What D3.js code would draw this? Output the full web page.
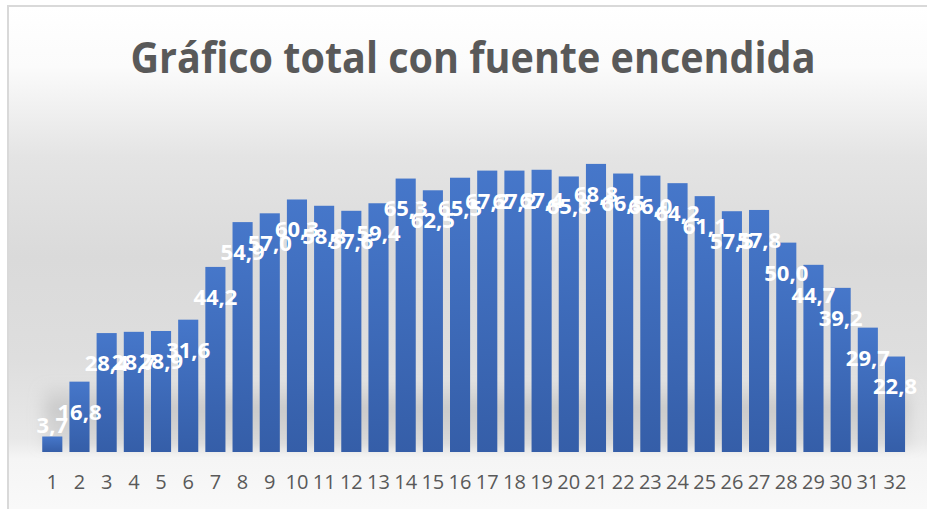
<!DOCTYPE html>
<html>
<head>
<meta charset="utf-8">
<script src="https://cdn.jsdelivr.net/npm/d3@7"></script>
<style>
  html, body { margin: 0; padding: 0; background: #fff; overflow: hidden; }
  svg { display: block; }
</style>
</head>
<body>
<div id="chart"></div>
<script>
const title = "Gráfico total con fuente encendida";
const categories = d3.range(1, 33).map(String);
const values = [3.7, 16.8, 28.4, 28.7, 28.9, 31.6, 44.2, 54.9, 57.0, 60.3, 58.8, 57.6, 59.4, 65.3, 62.5, 65.5,
                67.2, 67.2, 67.4, 65.8, 68.8, 66.5, 66.0, 64.2, 61.1, 57.5, 57.8, 50.0, 44.7, 39.2, 29.7, 22.8];
const yMax = 80;

const width = 927, height = 509;
const plotBottom = 452, plotTop = 117;

const svg = d3.select("#chart").append("svg")
    .attr("width", width)
    .attr("height", height);

const defs = svg.append("defs");

const bg = defs.append("linearGradient").attr("id", "bg")
    .attr("gradientUnits", "userSpaceOnUse")
    .attr("x1", 0).attr("y1", 6).attr("x2", 0).attr("y2", height);
[[0, "#ffffff"], [0.12, "#fbfbfb"], [0.3, "#e4e4e4"], [0.5, "#dadada"], [0.7, "#dedede"],
 [0.86, "#e8e8e8"], [0.9, "#f5f5f5"], [1, "#f9f9f9"]]
    .forEach(([o, c]) => bg.append("stop").attr("offset", o).attr("stop-color", c));

const barGrad = defs.append("linearGradient").attr("id", "bar")
    .attr("x1", 0).attr("y1", 0).attr("x2", 0).attr("y2", 1);
barGrad.append("stop").attr("offset", 0).attr("stop-color", "#4677ca");
barGrad.append("stop").attr("offset", 1).attr("stop-color", "#355ea8");

const shadowGrad = defs.append("linearGradient").attr("id", "shade")
    .attr("x1", 0).attr("y1", 0).attr("x2", 0).attr("y2", 1);
shadowGrad.append("stop").attr("offset", 0).attr("stop-color", "#b5b5b5").attr("stop-opacity", 0);
shadowGrad.append("stop").attr("offset", 0.4).attr("stop-color", "#b5b5b5").attr("stop-opacity", 0.55);
shadowGrad.append("stop").attr("offset", 0.7).attr("stop-color", "#bdbdbd").attr("stop-opacity", 0.5);
shadowGrad.append("stop").attr("offset", 1).attr("stop-color", "#c8c8c8").attr("stop-opacity", 0.35);

defs.append("filter").attr("id", "blur")
    .attr("x", -0.1).attr("y", -0.5).attr("width", 1.2).attr("height", 2)
    .append("feGaussianBlur").attr("stdDeviation", "8 4");

// chart area (right and bottom edges fall outside the picture)
svg.append("rect")
    .attr("x", 8).attr("y", 6)
    .attr("width", width + 60).attr("height", height + 60)
    .attr("fill", "url(#bg)")
    .attr("stroke", "#d9d9d9")
    .attr("stroke-width", 2);

const x = d3.scaleBand()
    .domain(categories)
    .range([38.7, 908.6])
    .paddingInner(0.26)
    .paddingOuter(0.13);

const y = d3.scaleLinear()
    .domain([0, yMax])
    .range([plotBottom, plotTop]);

// soft shadow behind bar bases
svg.append("rect")
    .attr("x", x.range()[0] + 6)
    .attr("y", plotBottom - 72)
    .attr("width", x.range()[1] - x.range()[0] - 6)
    .attr("height", 70)
    .attr("fill", "url(#shade)")
    .attr("filter", "url(#blur)");

svg.append("text")
    .attr("x", 473)
    .attr("y", 73)
    .attr("text-anchor", "middle")
    .attr("font-family", "'Open Sans', sans-serif")
    .attr("font-weight", 700)
    .attr("font-size", 43)
    .attr("fill", "#595959")
    .attr("textLength", 685)
    .attr("lengthAdjust", "spacingAndGlyphs")
    .text(title);

svg.append("g")
    .selectAll("rect")
    .data(values)
    .join("rect")
    .attr("x", (d, i) => x(categories[i]))
    .attr("y", d => y(d))
    .attr("width", x.bandwidth())
    .attr("height", d => plotBottom - y(d))
    .attr("fill", "url(#bar)");

const fmt = d => d.toFixed(1).replace(".", ",");

svg.append("g")
    .selectAll("text")
    .data(values)
    .join("text")
    .attr("x", (d, i) => x(categories[i]) + x.bandwidth() / 2)
    .attr("y", d => Math.min(y(d) + 30, plotBottom - 27))
    .attr("dy", "0.36em")
    .attr("text-anchor", "middle")
    .attr("font-family", "'Open Sans', sans-serif")
    .attr("font-weight", 700)
    .attr("font-size", 22)
    .attr("fill", "#ffffff")
    .text(fmt);

const xAxis = svg.append("g")
    .attr("transform", `translate(0,${plotBottom})`)
    .call(d3.axisBottom(x).tickSize(0).tickPadding(23));

xAxis.select(".domain").remove();
xAxis.selectAll("text")
    .attr("font-family", "'Open Sans', sans-serif")
    .attr("font-size", 20)
    .attr("fill", "#595959");
</script>
</body>
</html>
